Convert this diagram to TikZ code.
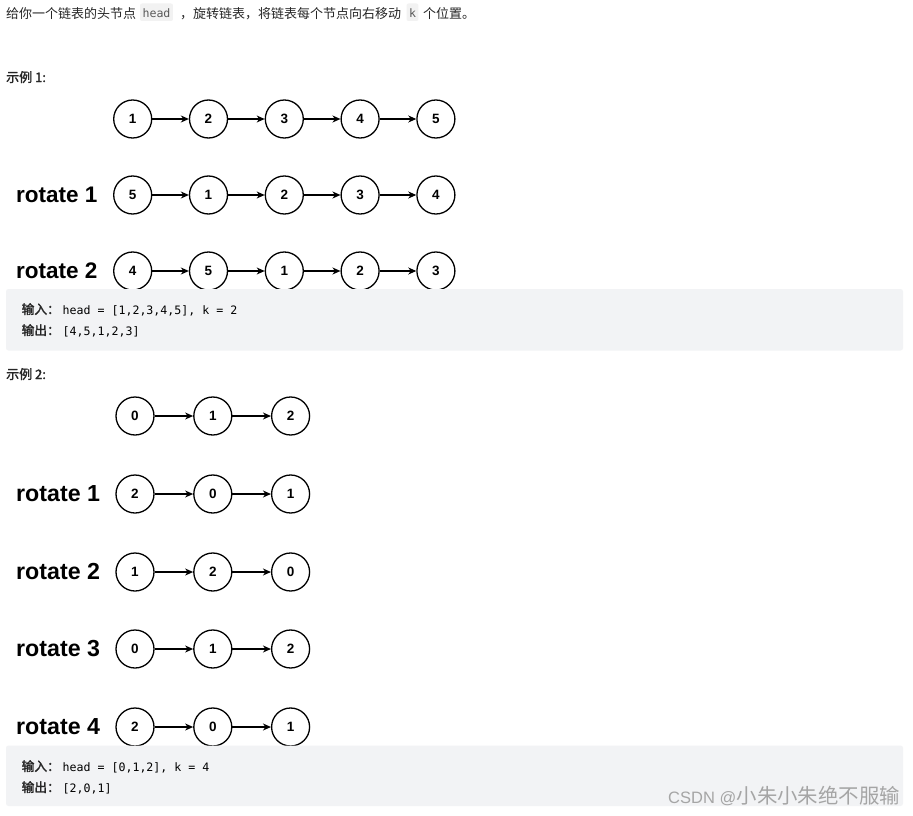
\documentclass[tikz,border=0pt]{standalone}
\usepackage{fontspec}
\setmainfont{Liberation Sans}
\newfontfamily\cjk{Noto Sans CJK SC}
\newfontfamily\cjkb{Noto Sans CJK SC}[FakeBold=2]
\newfontfamily\mono{DejaVu Sans Mono}
\usetikzlibrary{arrows.meta}
\definecolor{txt}{RGB}{38,38,38}
\definecolor{boxbg}{RGB}{242,243,245}
\definecolor{codebg}{RGB}{242,242,242}
\definecolor{codetx}{RGB}{90,90,90}
\definecolor{wm}{RGB}{165,165,165}
\begin{document}
\begin{tikzpicture}[x=1pt,y=-1pt,
  ln/.style={circle,draw,line width=1.3pt,minimum size=38pt,inner sep=0pt,
    font=\fontsize{13.5}{15}\selectfont\bfseries},
  arr/.style={line width=1.2pt,-{Stealth[length=8pt,width=7pt,inset=2.5pt]}},
  rot/.style={anchor=base west,inner sep=0pt,font=\fontsize{22.5}{26}\selectfont\bfseries},
  rotb/.style={rot,font=\fontsize{23.2}{26}\selectfont\bfseries},
  plain/.style={anchor=base west,inner sep=0pt,text=txt},
  codebox/.style={anchor=base,fill=codebg,rounded corners=2pt,inner xsep=2.5pt,inner ysep=2pt,
    text height=12pt,text depth=1.5pt,text=codetx,font=\mono\fontsize{11.6}{13}\selectfont},
  panel/.style={fill=boxbg,rounded corners=2.5pt},
  ioh/.style={anchor=base west,inner sep=0pt,text=txt,font=\cjkb\fontsize{12.7}{14}\selectfont},
  iot/.style={anchor=base west,inner sep=0pt,text=black,font=\mono\fontsize{11.6}{13}\selectfont},
  ex/.style={anchor=base west,inner sep=0pt,text=txt,font=\cjkb\fontsize{13}{15}\selectfont}]
\useasboundingbox (0,0) rectangle (913,816);
\fill[white] (0,0) rectangle (913,816);

% title line
\node[plain,font=\cjk\fontsize{13}{15}\selectfont] (t1) at (6,18.5) {给你一个链表的头节点};
\node[codebox] (c1) at (156.5,17.5) {head};
\node[plain,font=\cjk\fontsize{13}{15}\selectfont] (t2) at (180,18.5) {，旋转链表，将链表每个节点向右移动};
\node[codebox] (c2) at (412.5,17.5) {k};
\node[plain,font=\cjk\fontsize{13}{15}\selectfont] (t3) at (423,18.5) {个位置。};

% example 1
\node[ex] (ex1) at (6,82) {示例 1:};
\foreach \r/\y/\lst in {0/119/{1,2,3,4,5},1/195/{5,1,2,3,4},2/271/{4,5,1,2,3}}{
  \foreach \v [count=\i] in \lst {
    \node[ln] (a\r-\i) at ({132.7+75.8*(\i-1)},\y) {\v};
  }
  \foreach \i [count=\j from 2] in {1,...,4} {
    \draw[arr] (a\r-\i) -- (a\r-\j);
  }
}
\node[rot] (r11) at (16,202) {rotate 1};
\node[rot] (r12) at (16,278) {rotate 2};

\fill[panel] (6,289) rectangle (903,350.5);
\node[ioh] (i1) at (21.5,314) {输入：};
\node[iot] (i1t) at (62.5,314) {head = [1,2,3,4,5], k = 2};
\node[ioh] (o1) at (21.5,335) {输出：};
\node[iot] (o1t) at (62.5,335) {[4,5,1,2,3]};

% example 2
\node[ex] (ex2) at (6,379) {示例 2:};
\foreach \r/\y/\lst in {0/416/{0,1,2},1/494/{2,0,1},2/572/{1,2,0},3/649/{0,1,2},4/727/{2,0,1}}{
  \foreach \v [count=\i] in \lst {
    \node[ln] (b\r-\i) at ({135+77.8*(\i-1)},\y) {\v};
  }
  \foreach \i [count=\j from 2] in {1,2} {
    \draw[arr] (b\r-\i) -- (b\r-\j);
  }
}
\node[rotb] (r21) at (16,501.5) {rotate 1};
\node[rotb] (r22) at (16,579.5) {rotate 2};
\node[rotb] (r23) at (16,656.5) {rotate 3};
\node[rotb] (r24) at (16,734.5) {rotate 4};

\fill[panel] (6,745.5) rectangle (903,806);
\node[ioh] (i2) at (21.5,771) {输入：};
\node[iot] (i2t) at (62.5,771) {head = [0,1,2], k = 4};
\node[ioh] (o2) at (21.5,792) {输出：};
\node[iot] (o2t) at (62.5,792) {[2,0,1]};

% watermark
\node[anchor=base west,inner sep=0pt,text=wm,font=\fontsize{16.5}{18}\selectfont] (w1) at (668,803) {CSDN @};
\node[anchor=base west,inner sep=0pt,text=wm,font=\cjk\fontsize{20.4}{22}\selectfont] (w2) at (w1.base east) {小朱小朱绝不服输};
\end{tikzpicture}
\end{document}
